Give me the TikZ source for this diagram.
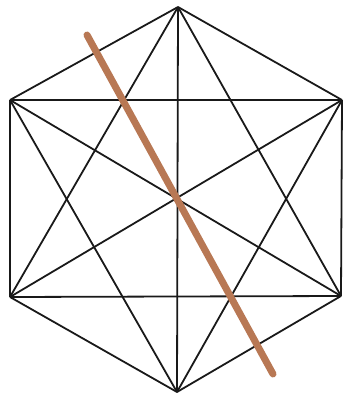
\documentclass[tikz,border=0pt]{standalone}
\definecolor{brownline}{RGB}{184,120,84}
\begin{document}
\begin{tikzpicture}[x=1pt,y=-1pt,
  edge/.style={draw=black!90,line width=1.8pt},
  cut/.style={draw=brownline,line width=7pt,line cap=round}]
\useasboundingbox (0,0) rectangle (347,399);
\coordinate (T) at (178,7);
\coordinate (UL) at (10,100);
\coordinate (UR) at (342,100);
\coordinate (LL) at (10,297);
\coordinate (LR) at (341,296);
\coordinate (B) at (177,392);
\coordinate (c1) at (87,35);
\coordinate (c2) at (273,374);
\foreach \a/\b in {T/UL,T/UR,T/LL,T/LR,T/B,UL/UR,UL/LL,UL/LR,UL/B,UR/LL,UR/LR,UR/B,LL/LR,LL/B,LR/B}
  \draw[edge] (\a) -- (\b);
\draw[cut] (c1) -- (c2);
\end{tikzpicture}
\end{document}
